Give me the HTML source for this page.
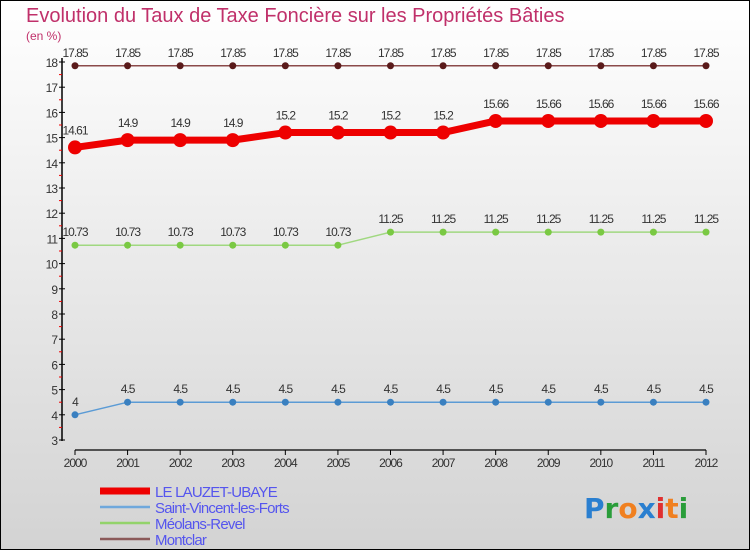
<!DOCTYPE html>
<html><head><meta charset="utf-8"><style>
body{margin:0}
#c{width:750px;height:550px;position:relative;box-sizing:border-box;border:1px solid #000;background:linear-gradient(#ffffff,#d3d3d3);font-family:"Liberation Sans",sans-serif;overflow:hidden}
</style></head><body>
<div id="c">
<svg id="s" width="750" height="550" style="position:absolute;left:-1px;top:-1px">
<text x="26" y="22" font-size="20" fill="#c0306a">Evolution du Taux de Taxe Foncière sur les Propriétés Bâties</text>
<text x="26" y="40" font-size="12" fill="#c0306a">(en %)</text>
</svg>
</div>
<script>
const years=[2000,2001,2002,2003,2004,2005,2006,2007,2008,2009,2010,2011,2012];
const yTicks=[3,4,5,6,7,8,9,10,11,12,13,14,15,16,17,18];
const lauzet=[14.61,14.9,14.9,14.9,15.2,15.2,15.2,15.2,15.66,15.66,15.66,15.66,15.66];
const stVincent=[4,4.5,4.5,4.5,4.5,4.5,4.5,4.5,4.5,4.5,4.5,4.5,4.5];
const meolans=[10.73,10.73,10.73,10.73,10.73,10.73,11.25,11.25,11.25,11.25,11.25,11.25,11.25];
const montclar=[17.85,17.85,17.85,17.85,17.85,17.85,17.85,17.85,17.85,17.85,17.85,17.85,17.85];
const names=["LE LAUZET-UBAYE","Saint-Vincent-les-Forts","Méolans-Revel","Montclar"];
const NS="http://www.w3.org/2000/svg",s=document.getElementById('s');
const X=i=>75+i*(706-75)/(years.length-1);
const Y=v=>440-(v-3)*(440-62)/15;
function el(t,a,p){const e=document.createElementNS(NS,t);for(const k in a)e.setAttribute(k,a[k]);(p||s).appendChild(e);return e;}
// axes
let ax=el('line',{x1:62,y1:58,x2:62,y2:441,stroke:'#000','stroke-width':1.5});

yTicks.forEach(v=>{const y=Y(v);
 el('line',{x1:59,x2:65,y1:y,y2:y,stroke:'#000'});
 if(v<18)el('line',{x1:59,x2:62,y1:Y(v+0.5),y2:Y(v+0.5),stroke:'#e00'});
 const t=el('text',{x:57,y:y+5,'text-anchor':'end','font-size':12,fill:'#333','letter-spacing':'-1'});t.textContent=v;
 });
let xa=el('line',{x1:75,y1:450,x2:706,y2:450,stroke:'#000','stroke-width':1.2});

years.forEach((yr,i)=>{el('line',{x1:X(i),x2:X(i),y1:450,y2:455,stroke:'#000'});
 const t=el('text',{x:X(i),y:467,'text-anchor':'middle','font-size':12,fill:'#333','letter-spacing':'-1'});t.textContent=yr;
 });
function series(d,col,w,r,dot,name,lblOff){
 const g=el('g',{});
 el('polyline',{points:d.map((v,i)=>X(i)+','+Y(v)).join(' '),fill:'none',stroke:col,'stroke-width':w,'stroke-linejoin':'round'},g);
 d.forEach((v,i)=>{const c=el('circle',{cx:X(i),cy:Y(v),r:r,fill:dot},g);
  
  const t=el('text',{x:X(i),y:Y(v)-lblOff,'text-anchor':'middle','font-size':12,fill:'#333','letter-spacing':'-1'},g);t.textContent=v;
  });
}
series(montclar,'#8b4a4a',1.5,3.5,'#5a1a1a','series-montclar',9);
series(meolans,'#a0d880',1.5,3.5,'#7ac943','series-meolans-revel',9);
series(stVincent,'#5b9bd5',1.5,3.5,'#3a80c0','series-saint-vincent',9);
series(lauzet,'#ee0000',7,7,'#ee0000','series-le-lauzet-ubaye',13);
// legend
const lc=['#ee0000','#6fa8dc','#93d36b','#8b5a5a'],lw=[7,2.5,2.5,2.5];
names.forEach((n,i)=>{const y=491+i*16;
 const g=el('g',{});
 el('line',{x1:100,x2:150,y1:y,y2:y,stroke:lc[i],'stroke-width':lw[i]},g);
 const t=el('text',{x:155,y:y+6,'font-size':15,fill:'#5555ee','letter-spacing':'-0.8'},g);t.textContent=n;});
// logo
const lg=el('text',{x:584,y:518,'font-size':28,'font-weight':'bold','font-family':'DejaVu Sans, sans-serif'});

[['P','#2a7fd0'],['r','#2a9d3a'],['o','#f08020'],['x','#2a7fd0'],['i','#e03030'],['t','#f08020'],['i','#2a9d3a']].forEach(([c,f])=>{const ts=el('tspan',{fill:f},lg);ts.textContent=c;});
</script>
</body></html>
